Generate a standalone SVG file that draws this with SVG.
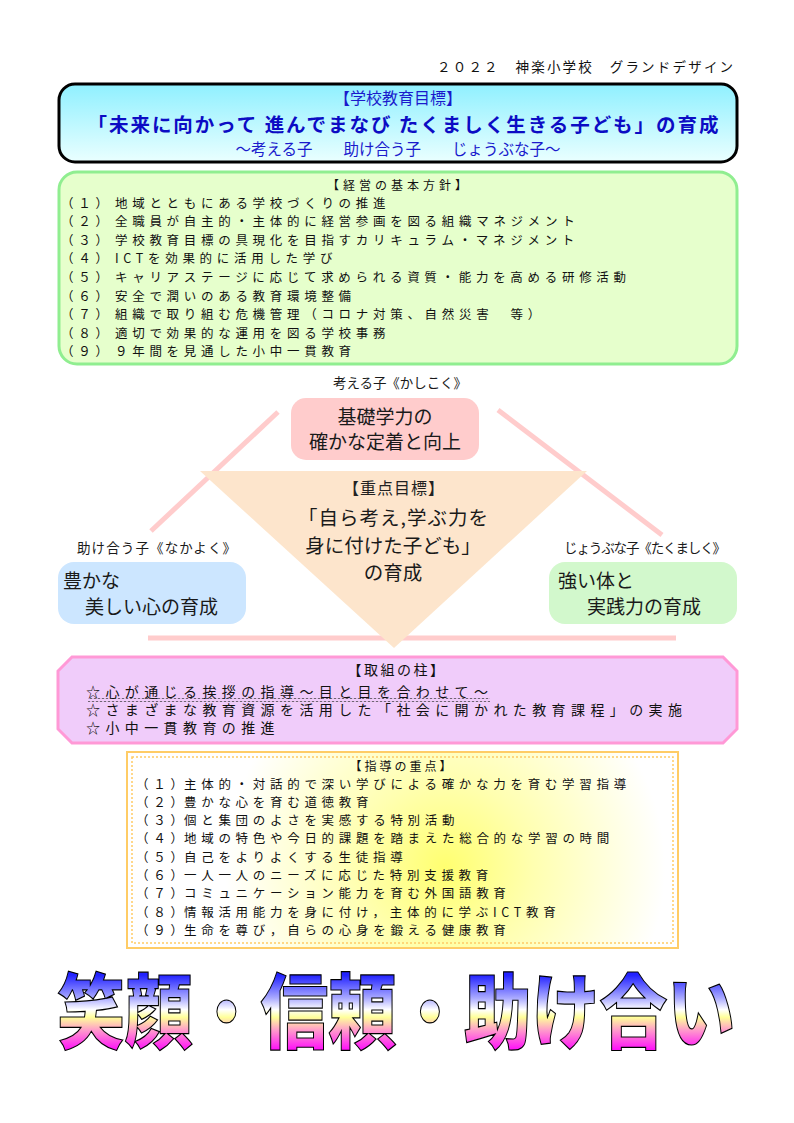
<svg xmlns="http://www.w3.org/2000/svg" width="794" height="1123" viewBox="0 0 794 1123">
<defs>
<style>
text{font-family:"Noto Sans CJK JP","Noto Sans CJK SC",sans-serif;fill:#111}
.blue{fill:#1a1acc}
.li{font-size:12.5px;letter-spacing:4.7px}
.ttl{font-size:12px;letter-spacing:4px}
.pp{font-size:14px;letter-spacing:5.4px}
.mid{font-size:19px;fill:#1a1a1a}
.cen{font-size:19.5px;fill:#1a1a1a}
.lbl{font-size:13.5px;fill:#1a1a1a}
.pline{stroke:#ffcccc;stroke-width:5;fill:none}
</style>
<linearGradient id="gTop" x1="0" y1="0" x2="0" y2="1">
<stop offset="0" stop-color="#8ff0ff"/>
<stop offset="1" stop-color="#eaffff"/>
</linearGradient>
<radialGradient id="gOr" gradientUnits="userSpaceOnUse" cx="445" cy="868" r="220">
<stop offset="0" stop-color="#ffff70"/>
<stop offset="0.4" stop-color="#ffffb0"/>
<stop offset="1" stop-color="#ffffff"/>
</radialGradient>
<linearGradient id="gBig" gradientUnits="userSpaceOnUse" x1="0" y1="-67" x2="0" y2="10">
<stop offset="0" stop-color="#2222ff"/>
<stop offset="0.3" stop-color="#aaaaff"/>
<stop offset="0.45" stop-color="#ffffff"/>
<stop offset="0.55" stop-color="#ffff99"/>
<stop offset="0.72" stop-color="#ff99cc"/>
<stop offset="1" stop-color="#ff00ff"/>
</linearGradient>
<pattern id="wave" width="4" height="4" patternUnits="userSpaceOnUse">
<path d="M0 2 Q1 0.6 2 2 T4 2" stroke="#333" stroke-width="0.8" fill="none"/>
</pattern>
</defs>

<text id="header" x="437" y="72" style="font-size:13.5px;letter-spacing:2.2px">２０２２　神楽小学校　グランドデザイン</text>

<g id="goal">
<rect x="59" y="84" width="678" height="78" rx="16" fill="url(#gTop)" stroke="#000" stroke-width="3"/>
<text class="blue" x="398" y="104" text-anchor="middle" font-size="16">【学校教育目標】</text>
<text class="blue" x="403" y="132" text-anchor="middle" font-size="19.5" font-weight="bold" textLength="631" style="fill:#0c0cc4">「未来に向かって 進んでまなび たくましく生きる子ども」の育成</text>
<text class="blue" x="398" y="155" text-anchor="middle" font-size="15.5">～考える子　　助け合う子　　じょうぶな子～</text>
</g>

<g id="policy">
<rect x="59" y="172" width="678" height="192" rx="18" fill="#e6ffcc" stroke="#90ee90" stroke-width="3"/>
<text class="ttl" x="399" y="190" text-anchor="middle">【経営の基本方針】</text>
<g class="li">
<text x="61" y="207.5">（１）<tspan x="115">地域とともにある学校づくりの推進</tspan></text>
<text x="61" y="226.1">（２）<tspan x="115">全職員が自主的・主体的に経営参画を図る組織マネジメント</tspan></text>
<text x="61" y="244.7">（３）<tspan x="115">学校教育目標の具現化を目指すカリキュラム・マネジメント</tspan></text>
<text x="61" y="263.3">（４）<tspan x="115">ICTを効果的に活用した学び</tspan></text>
<text x="61" y="281.9">（５）<tspan x="115">キャリアステージに応じて求められる資質・能力を高める研修活動</tspan></text>
<text x="61" y="300.5">（６）<tspan x="115">安全で潤いのある教育環境整備</tspan></text>
<text x="61" y="319.1">（７）<tspan x="115">組織で取り組む危機管理（コロナ対策、自然災害　等）</tspan></text>
<text x="61" y="337.7">（８）<tspan x="115">適切で効果的な運用を図る学校事務</tspan></text>
<text x="61" y="356.3">（９）<tspan x="115">９年間を見通した小中一貫教育</tspan></text>
</g>
</g>

<g id="connectors">
<line class="pline" x1="278" y1="412" x2="151" y2="531"/>
<line class="pline" x1="498" y1="410" x2="662" y2="535"/>
<line class="pline" x1="148" y1="638" x2="676" y2="638"/>
</g>

<text id="label-top" class="lbl" x="400" y="388" text-anchor="middle" textLength="134">考える子《かしこく》</text>

<g id="basic">
<rect x="291" y="398" width="188" height="62" rx="15" fill="#ffcccc"/>
<text class="mid" x="385" y="424" text-anchor="middle">基礎学力の</text>
<text class="mid" x="385" y="449" text-anchor="middle">確かな定着と向上</text>
</g>

<g id="focus">
<polygon points="200,471 587,471 394,648" fill="#fde5cc"/>
<text x="394" y="494" text-anchor="middle" style="font-size:16px;letter-spacing:1px;fill:#222">【重点目標】</text>
<text class="cen" x="393" y="525" text-anchor="middle" textLength="190">「自ら考え,学ぶ力を</text>
<text class="cen" x="393" y="553" text-anchor="middle">身に付けた子ども」</text>
<text class="cen" x="393" y="580" text-anchor="middle">の育成</text>
</g>

<g id="heart">
<text class="lbl" x="77" y="553" textLength="159">助け合う子《なかよく》</text>
<rect x="58" y="562" width="188" height="62" rx="16" fill="#cce6ff"/>
<text class="mid" x="63" y="588">豊かな</text>
<text class="mid" x="85" y="614">美しい心の育成</text>
</g>

<g id="body">
<text class="lbl" x="564" y="553" textLength="162">じょうぶな子《たくましく》</text>
<rect x="549" y="562" width="188" height="62" rx="16" fill="#d2f8cc"/>
<text class="mid" x="558" y="588">強い体と</text>
<text class="mid" x="587" y="614">実践力の育成</text>
</g>

<g id="pillars">
<polygon points="72,657 723,657 737,671 737,729 723,743 72,743 58,729 58,671" fill="#f0ccfa" stroke="#ff99d6" stroke-width="3"/>
<text x="397" y="675" text-anchor="middle" style="font-size:14px;letter-spacing:2.5px">【取組の柱】</text>
<g class="pp">
<text x="86" y="697">☆心が通じる挨拶の指導～目と目を合わせて～</text>
<text x="86" y="715">☆さまざまな教育資源を活用した「社会に開かれた教育課程」の実施</text>
<text x="86" y="733">☆小中一貫教育の推進</text>
</g>
<rect x="88" y="698" width="402" height="4" fill="url(#wave)"/>
</g>

<g id="guidance">
<rect x="127" y="752" width="551" height="196" fill="url(#gOr)" stroke="#ffcc66" stroke-width="2"/>
<rect x="132" y="757" width="541" height="186" fill="none" stroke="#ffcc66" stroke-width="1.5" stroke-dasharray="2,2"/>
<text class="ttl" x="402" y="771" text-anchor="middle" style="letter-spacing:3px">【指導の重点】</text>
<g class="li">
<text x="136" y="788.5">（１）<tspan x="184">主体的・対話的で深い学びによる確かな力を育む学習指導</tspan></text>
<text x="136" y="806.8">（２）<tspan x="184">豊かな心を育む道徳教育</tspan></text>
<text x="136" y="825.1">（３）<tspan x="184">個と集団のよさを実感する特別活動</tspan></text>
<text x="136" y="843.4">（４）<tspan x="184">地域の特色や今日的課題を踏まえた総合的な学習の時間</tspan></text>
<text x="136" y="861.7">（５）<tspan x="184">自己をよりよくする生徒指導</tspan></text>
<text x="136" y="880">（６）<tspan x="184">一人一人のニーズに応じた特別支援教育</tspan></text>
<text x="136" y="898.3">（７）<tspan x="184">コミュニケーション能力を育む外国語教育</tspan></text>
<text x="136" y="916.6">（８）<tspan x="184">情報活用能力を身に付け，主体的に学ぶICT教育</tspan></text>
<text x="136" y="934.9">（９）<tspan x="184">生命を尊び，自らの心身を鍛える健康教育</tspan></text>
</g>
</g>

<g id="motto" transform="translate(57,1042) scale(0.827,1)">
<text x="0" y="0" style="font-size:82px;font-weight:900;fill:url(#gBig);stroke:#000;stroke-width:1.2">笑顔・信頼・助け合い</text>
</g>
</svg>
